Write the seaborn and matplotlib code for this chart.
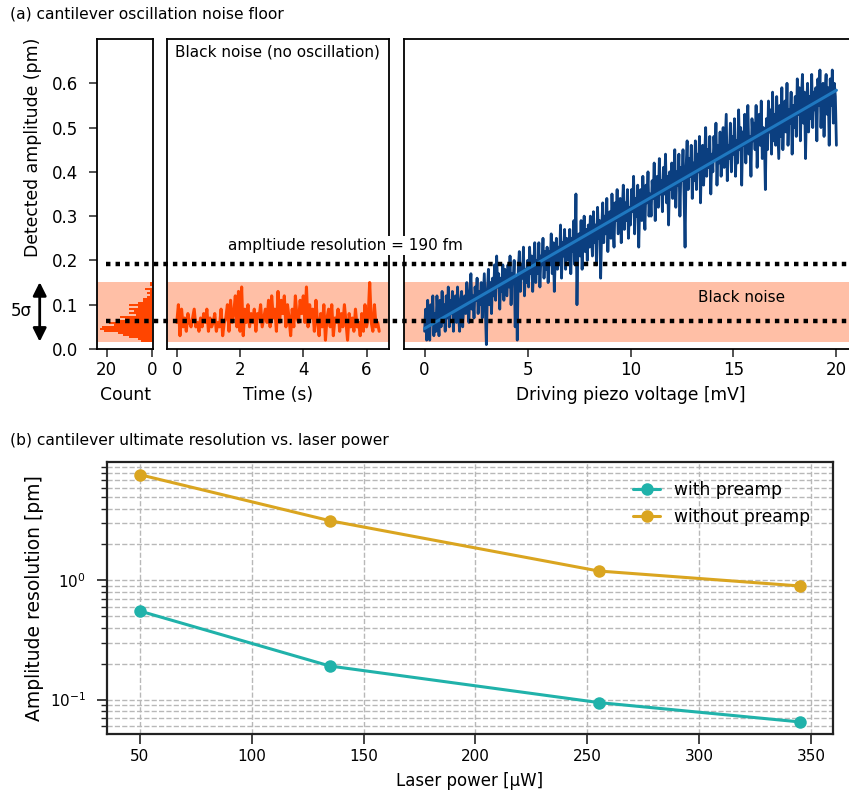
import numpy as np
import pandas as pd
import matplotlib
matplotlib.use("Agg")
import matplotlib.pyplot as plt
import seaborn as sns

# ---------------- data ----------------
# (a) histogram of black noise: bin edges (pm) and counts (bottom to top)
hist_edges = [round(0.0165 + 0.0045 * i, 5) for i in range(31)]
hist_counts = [5, 6, 10, 13, 15, 21, 23, 22, 17, 19, 16, 12, 14, 7, 10,
               8, 10, 6, 10, 6, 4, 4, 2, 1, 2, 1, 3, 0, 1, 1]

# (a) time trace of black noise
time_s = np.linspace(0.0, 6.4, 129)
noise_pm = [
    0.06, 0.10, 0.03, 0.09, 0.05, 0.07, 0.04, 0.08, 0.06, 0.05, 0.07, 0.09, 0.05, 0.06, 0.04, 0.07,
    0.05, 0.08, 0.06, 0.09, 0.04, 0.07, 0.05, 0.06, 0.08, 0.04, 0.06, 0.05, 0.09, 0.03, 0.06, 0.07,
    0.10, 0.04, 0.11, 0.06, 0.08, 0.12, 0.05, 0.13, 0.04, 0.14, 0.03, 0.09, 0.06, 0.10, 0.05, 0.08,
    0.06, 0.09, 0.04, 0.08, 0.07, 0.10, 0.05, 0.07, 0.09, 0.06, 0.11, 0.05, 0.12, 0.07, 0.09, 0.04,
    0.13, 0.06, 0.11, 0.08, 0.12, 0.05, 0.10, 0.07, 0.03, 0.09, 0.05, 0.12, 0.07, 0.06, 0.11, 0.08,
    0.12, 0.06, 0.14, 0.05, 0.10, 0.07, 0.09, 0.04, 0.11, 0.06, 0.03, 0.08, 0.05, 0.10, 0.02, 0.07,
    0.09, 0.05, 0.10, 0.03, 0.07, 0.06, 0.09, 0.04, 0.08, 0.05, 0.10, 0.06, 0.02, 0.08, 0.05, 0.07,
    0.04, 0.09, 0.05, 0.06, 0.03, 0.08, 0.04, 0.10, 0.05, 0.07, 0.15, 0.06, 0.04, 0.10, 0.05, 0.06,
    0.04,
]

# (a) amplitude vs driving piezo voltage (0 ... 20 mV, 0.05 mV steps)
piezo_mv = np.linspace(0.0, 20.0, 401)
amp_pm = [
    0.04, 0.09, 0.02, 0.11, 0.05, 0.02, 0.10, 0.06, 0.12, 0.03,
    0.08, 0.04, 0.12, 0.07, 0.03, 0.11, 0.05, 0.13, 0.06, 0.10,
    0.04, 0.12, 0.07, 0.14, 0.05, 0.11, 0.08, 0.13, 0.04, 0.10,
    0.12, 0.06, 0.14, 0.08, 0.04, 0.11, 0.13, 0.05, 0.10, 0.12,
    0.08, 0.15, 0.10, 0.06, 0.13, 0.17, 0.09, 0.12, 0.07, 0.14,
    0.11, 0.16, 0.08, 0.13, 0.10, 0.15, 0.07, 0.12, 0.17, 0.09,
    0.01, 0.13, 0.18, 0.10, 0.15, 0.08, 0.16, 0.12, 0.19, 0.11,
    0.21, 0.14, 0.17, 0.09, 0.16, 0.13, 0.19, 0.11, 0.18, 0.15,
    0.12, 0.19, 0.14, 0.21, 0.10, 0.17, 0.15, 0.20, 0.05, 0.16,
    0.02, 0.18, 0.22, 0.13, 0.19, 0.16, 0.23, 0.12, 0.18, 0.15,
    0.20, 0.14, 0.23, 0.17, 0.21, 0.13, 0.19, 0.24, 0.15, 0.20,
    0.17, 0.24, 0.14, 0.21, 0.19, 0.25, 0.16, 0.22, 0.18, 0.23,
    0.15, 0.22, 0.19, 0.26, 0.17, 0.24, 0.13, 0.21, 0.25, 0.18,
    0.23, 0.19, 0.28, 0.16, 0.24, 0.21, 0.27, 0.18, 0.25, 0.22,
    0.20, 0.27, 0.17, 0.25, 0.22, 0.29, 0.19, 0.35, 0.10, 0.24,
    0.26, 0.21, 0.29, 0.18, 0.25, 0.30, 0.22, 0.27, 0.20, 0.28,
    0.23, 0.30, 0.26, 0.21, 0.31, 0.24, 0.28, 0.19, 0.32, 0.25,
    0.29, 0.16, 0.27, 0.33, 0.24, 0.30, 0.26, 0.34, 0.22, 0.29,
    0.31, 0.25, 0.35, 0.28, 0.23, 0.33, 0.29, 0.36, 0.26, 0.30,
    0.34, 0.24, 0.31, 0.37, 0.27, 0.33, 0.29, 0.36, 0.25, 0.32,
    0.28, 0.36, 0.31, 0.39, 0.26, 0.34, 0.30, 0.37, 0.23, 0.33,
    0.36, 0.29, 0.39, 0.32, 0.27, 0.37, 0.33, 0.40, 0.30, 0.35,
    0.30, 0.38, 0.34, 0.42, 0.29, 0.36, 0.39, 0.32, 0.43, 0.35,
    0.38, 0.31, 0.41, 0.35, 0.44, 0.33, 0.39, 0.28, 0.40, 0.36,
    0.42, 0.34, 0.39, 0.45, 0.32, 0.40, 0.37, 0.44, 0.30, 0.41,
    0.38, 0.45, 0.35, 0.23, 0.41, 0.47, 0.36, 0.43, 0.39, 0.46,
    0.34, 0.42, 0.38, 0.47, 0.36, 0.44, 0.40, 0.48, 0.33, 0.43,
    0.46, 0.37, 0.43, 0.50, 0.39, 0.45, 0.41, 0.48, 0.35, 0.44,
    0.40, 0.48, 0.43, 0.51, 0.37, 0.46, 0.42, 0.49, 0.39, 0.45,
    0.50, 0.41, 0.47, 0.53, 0.38, 0.46, 0.43, 0.51, 0.40, 0.48,
    0.44, 0.52, 0.39, 0.47, 0.42, 0.54, 0.45, 0.50, 0.37, 0.49,
    0.46, 0.53, 0.42, 0.50, 0.55, 0.44, 0.48, 0.39, 0.52, 0.47,
    0.51, 0.45, 0.55, 0.41, 0.49, 0.53, 0.46, 0.56, 0.43, 0.50,
    0.48, 0.36, 0.52, 0.45, 0.56, 0.49, 0.54, 0.44, 0.58, 0.47,
    0.53, 0.46, 0.57, 0.50, 0.43, 0.55, 0.48, 0.59, 0.45, 0.52,
    0.56, 0.49, 0.60, 0.46, 0.54, 0.51, 0.58, 0.44, 0.55, 0.50,
    0.57, 0.48, 0.61, 0.53, 0.59, 0.47, 0.56, 0.62, 0.51, 0.58,
    0.43, 0.55, 0.60, 0.49, 0.57, 0.52, 0.62, 0.50, 0.58, 0.54,
    0.59, 0.47, 0.61, 0.55, 0.63, 0.50, 0.57, 0.60, 0.48, 0.58,
    0.62, 0.53, 0.59, 0.46, 0.61, 0.55, 0.63, 0.51, 0.60, 0.57,
    0.46,
]

noise_band = (0.0165, 0.151)     # pm, 5 sigma band
noise_mean = 0.064               # pm
resolution = 0.192               # pm

# (b) resolution vs laser power
laser_uw = [50, 135, 255, 345]
with_preamp = [0.553, 0.191, 0.0944, 0.0649]
without_preamp = [7.69, 3.16, 1.197, 0.896]

# ---------------- style ----------------
sns.set_style("ticks")
plt.rcParams["font.family"] = ["DejaVu Sans"]
for key in ("text.color", "axes.labelcolor", "xtick.labelcolor", "ytick.labelcolor"):
    plt.rcParams[key] = "black"

W, H = 849, 792
fig = plt.figure(figsize=(W / 100, H / 100), dpi=100)

def fx(px):
    return px / W

def fy(py):
    return 1 - py / H

top_b = fy(349)
top_h = (349 - 39) / H
ax_hist = fig.add_axes([fx(97), top_b, (153.3 - 97) / W, top_h])
ax_time = fig.add_axes([fx(166.7), top_b, (389.3 - 166.7) / W, top_h])
ax_piezo = fig.add_axes([fx(404), top_b, (857 - 404) / W, top_h])

band_color = (1.0, 0.5, 0.31, 0.5)
red = "#ff4500"
navy = "#0b3f80"
fitblue = "#1f78c0"
LBL = 12.3
TCK = 12

for ax in (ax_hist, ax_time, ax_piezo):
    ax.axhspan(*noise_band, color=band_color, lw=0, zorder=0)
    ax.set_ylim(0, 0.7)
    for s in ax.spines.values():
        s.set_linewidth(1.3)
        s.set_color("black")
    ax.tick_params(axis="x", labelsize=TCK, length=6, width=1.1, pad=2.5, color="#222222")
    ax.tick_params(axis="y", labelsize=TCK, length=6, width=1.1, pad=7.5, color="#222222")

# histogram (counts per bin given as weights)
centers = [(a + b) / 2 for a, b in zip(hist_edges[:-1], hist_edges[1:])]
hist_df = pd.DataFrame({"amp": centers, "count": hist_counts})
sns.histplot(data=hist_df, y="amp", weights="count", bins=hist_edges, ax=ax_hist,
             color=red, alpha=1, edgecolor="none", linewidth=0, zorder=2)
ax_hist.set_xlim(24.3, -0.57)
ax_hist.set_ylim(0, 0.7)
ax_hist.set_xticks([20, 0])
ax_hist.set_yticks([0.0, 0.1, 0.2, 0.3, 0.4, 0.5, 0.6])
ax_hist.set_yticklabels([f"{v:.1f}" for v in [0.0, 0.1, 0.2, 0.3, 0.4, 0.5, 0.6]])
ax_hist.set_ylabel("")
ax_hist.set_xlabel("Count", fontsize=LBL, labelpad=5)

# time trace
sns.lineplot(x=time_s, y=noise_pm, ax=ax_time, color=red, lw=2.2, estimator=None, zorder=2)
ax_time.set_xlim(-0.32, 6.72)
ax_time.set_xticks([0, 2, 4, 6])
ax_time.set_yticks([])
ax_time.set_xlabel("Time (s)", fontsize=LBL, labelpad=5)
ax_time.text(-0.05, 0.671, "Black noise (no oscillation)", fontsize=11, va="center", ha="left")

# piezo sweep
sns.lineplot(x=piezo_mv, y=amp_pm, ax=ax_piezo, color=navy, lw=2.0, estimator=None, zorder=2)
coef = np.polyfit(piezo_mv, amp_pm, 1)
fit_df = pd.DataFrame({"x": piezo_mv, "y": np.polyval(coef, piezo_mv)})
sns.lineplot(data=fit_df, x="x", y="y", ax=ax_piezo, color=fitblue, lw=2.2, zorder=3)
ax_piezo.set_xlim(-1, 21)
ax_piezo.set_xticks([0, 5, 10, 15, 20])
ax_piezo.set_yticks([])
ax_piezo.set_ylabel("")
ax_piezo.set_xlabel("Driving piezo voltage [mV]", fontsize=LBL, labelpad=5)
ax_piezo.text(15.4, 0.117, "Black noise", fontsize=11, ha="center", va="center")

# overlay for annotations spanning the whole top row
ax_over = fig.add_axes([0, top_b, 1, top_h], zorder=10)
ax_over.set_xlim(0, 1)
ax_over.set_ylim(0, 0.7)
ax_over.set_axis_off()
ax_over.patch.set_alpha(0)
for v in (noise_mean, resolution):
    ax_over.plot([fx(106), 1.0], [v, v], color="black", lw=3.2,
                 linestyle=(0, (1, 1.15)), dash_capstyle="butt", clip_on=False)

ax_over.text(fx(228), 0.233, "ampltiude resolution = 190 fm", fontsize=11, va="center", ha="left",
             bbox=dict(facecolor="white", edgecolor="none", pad=1.5))

ax_over.annotate("", xy=(fx(39.7), noise_band[0]), xytext=(fx(39.7), noise_band[1]),
                 arrowprops=dict(arrowstyle="<|-|>", color="black", lw=2, mutation_scale=20,
                                 shrinkA=0, shrinkB=0))
ax_over.text(fx(21), 0.0858, "5σ", fontsize=12, ha="center", va="center")

fig.text(fx(33), fy(147), "Detected amplitude (pm)", rotation=90, fontsize=12.4,
         ha="center", va="center")
fig.text(fx(10), fy(14), "(a) cantilever oscillation noise floor", fontsize=11.2, va="center")
fig.text(fx(10), fy(440), "(b) cantilever ultimate resolution vs. laser power", fontsize=11.2, va="center")

# ---------------- (b) ----------------
ax_b = fig.add_axes([fx(106.7), fy(734.3), (833 - 106.7) / W, (734.3 - 462.3) / H])
teal = "#20b2aa"
gold = "#daa520"
sns.lineplot(x=laser_uw, y=with_preamp, ax=ax_b, color=teal, lw=2.2, marker="o",
             markersize=9, markeredgewidth=0, label="with preamp")
sns.lineplot(x=laser_uw, y=without_preamp, ax=ax_b, color=gold, lw=2.2, marker="o",
             markersize=9, markeredgewidth=0, label="without preamp")
ax_b.set_yscale("log")
ax_b.set_xticks([50, 100, 150, 200, 250, 300, 350])
ax_b.grid(True, which="major", axis="both", ls="--", color="#b8b8b8", lw=1)
ax_b.grid(True, which="minor", axis="y", ls="--", color="#b8b8b8", lw=1)
for s in ax_b.spines.values():
    s.set_linewidth(1.6)
    s.set_color("#222222")
ax_b.tick_params(which="major", length=7, width=1.2, labelsize=11, color="#222222")
ax_b.tick_params(axis="y", which="major", pad=8)
ax_b.tick_params(which="minor", length=4, width=1, color="#222222")
ax_b.set_xlabel("Laser power [μW]", fontsize=12, labelpad=6)
ax_b.set_ylabel("Amplitude resolution [pm]", fontsize=13.5, labelpad=4)
leg = ax_b.legend(loc="upper right", frameon=False, prop={"size": 12.3},
                  bbox_to_anchor=(0.985, 0.975), handlelength=1.6, borderaxespad=0.3)

fig.savefig("out.png", dpi=100)
